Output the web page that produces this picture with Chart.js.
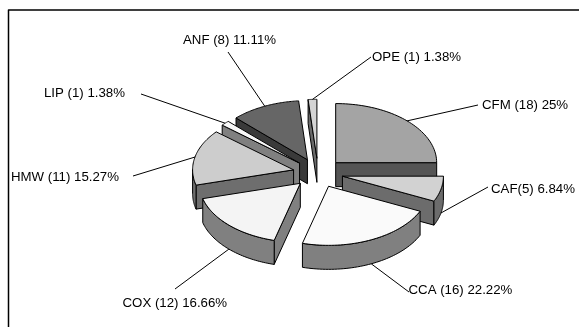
<!DOCTYPE html>
<html>
<head>
<meta charset="utf-8">
<style>
  html, body { margin: 0; padding: 0; background: #fff; overflow: hidden; }
  canvas { display: block; }
</style>
<script src="https://cdn.jsdelivr.net/npm/chart.js@4/dist/chart.umd.min.js"></script>
</head>
<body>
<canvas id="pie" width="579" height="327"></canvas>
<script>
// Sample counts per category, clockwise from twelve o'clock.
const categories = ['CFM', 'CAF', 'CCA', 'COX', 'HMW', 'LIP', 'ANF', 'OPE'];
const counts = [18, 5, 16, 12, 11, 1, 8, 1];
const sliceLabels = [
  'CFM (18) 25%',
  'CAF(5) 6.84%',
  'CCA (16) 22.22%',
  'COX (12) 16.66%',
  'HMW (11) 15.27%',
  'LIP (1) 1.38%',
  'ANF (8) 11.11%',
  'OPE (1) 1.38%'
];

// Greys for the top faces and the extruded sides of each slice.
const topColors = ['#a4a4a4', '#d2d2d2', '#fafafa', '#f4f4f4', '#cdcdcd', '#f8f8f8', '#666666', '#d4d4d4'];
const sideColors = ['#555555', '#6c6c6c', '#808080', '#808080', '#6e6e6e', '#808080', '#3a3a3a', '#6a6a6a'];

// Callout text anchors and leader-line ends.
const callouts = [
  { x: 482, y: 109, lx: 478, ly: 105 },
  { x: 491, y: 193, lx: 488, ly: 187 },
  { x: 408.5, y: 294, lx: 409, ly: 292 },
  { x: 122.5, y: 307, lx: 175, ly: 289 },
  { x: 11,  y: 181, lx: 133, ly: 176 },
  { x: 44,  y: 97,  lx: 141, ly: 94 },
  { x: 183, y: 44,  lx: 228, ly: 52 },
  { x: 372, y: 61,  lx: 371, ly: 57 }
];

const SQUASH = 0.585;
const DEPTH = 24;
const EXPLODE = 25;
const FONT = '13.25px "Liberation Sans", Arial, sans-serif';

// Slice centre after the explosion shift, in tilted screen space.
function sliceGeometry(arc, centreY) {
  const p = arc.getProps(['x', 'y', 'startAngle', 'endAngle', 'outerRadius']);
  const mid = (p.startAngle + p.endAngle) / 2;
  return {
    cx: p.x + Math.cos(mid) * EXPLODE,
    cy: centreY + Math.sin(mid) * EXPLODE * SQUASH,
    r: p.outerRadius,
    start: p.startAngle,
    end: p.endAngle,
    mid
  };
}

const onScreen = (g, a) => [g.cx + Math.cos(a) * g.r, g.cy + Math.sin(a) * g.r * SQUASH];

function tracePolygon(ctx, pts) {
  ctx.beginPath();
  pts.forEach((pt, i) => (i ? ctx.lineTo(pt[0], pt[1]) : ctx.moveTo(pt[0], pt[1])));
  ctx.closePath();
}

// Extruded side of a slice: the cut faces turned to the viewer and the curved rim.
function drawWalls(ctx, g, color) {
  ctx.fillStyle = color;
  ctx.strokeStyle = '#000';
  ctx.lineWidth = 1;
  ctx.lineJoin = 'round';
  const faces = [];
  if (Math.cos(g.start) < -1e-6) faces.push(g.start);
  if (Math.cos(g.end) > 1e-6) faces.push(g.end);
  faces.forEach((a) => {
    const o = onScreen(g, a);
    tracePolygon(ctx, [[g.cx, g.cy], o, [o[0], o[1] + DEPTH], [g.cx, g.cy + DEPTH]]);
    ctx.fill();
    ctx.stroke();
  });
  // Only the part of the rim facing the viewer (0..PI in canvas angles) shows.
  const steps = 48;
  const tau = Math.PI * 2;
  for (let k = -1; k <= 1; k++) {
    const a0 = Math.max(g.start, k * tau);
    const a1 = Math.min(g.end, k * tau + Math.PI);
    if (a1 <= a0) continue;
    const top = [];
    const bottom = [];
    for (let i = 0; i <= steps; i++) {
      const pt = onScreen(g, a0 + (a1 - a0) * i / steps);
      top.push(pt);
      bottom.unshift([pt[0], pt[1] + DEPTH]);
    }
    tracePolygon(ctx, top.concat(bottom));
    ctx.fill();
    ctx.stroke();
  }
}

function strokeTop(ctx, g) {
  ctx.strokeStyle = '#000';
  ctx.lineWidth = 1;
  ctx.lineJoin = 'round';
  const pts = [[g.cx, g.cy]];
  const steps = 48;
  for (let i = 0; i <= steps; i++) pts.push(onScreen(g, g.start + (g.end - g.start) * i / steps));
  tracePolygon(ctx, pts);
  ctx.stroke();
}

// Replaces the flat pie drawing with a tilted, extruded one, back slices first.
const tiltedPie = {
  id: 'tiltedPie',
  beforeDatasetsDraw(chart) {
    const ctx = chart.ctx;
    const arcs = chart.getDatasetMeta(0).data;
    const centreY = arcs[0].y;
    const order = arcs.map((arc, i) => ({ arc, i, g: sliceGeometry(arc, centreY) }))
      .sort((a, b) => Math.sin(a.g.mid) - Math.sin(b.g.mid));
    order.forEach(({ arc, i, g }) => {
      drawWalls(ctx, g, sideColors[i]);
      ctx.save();
      ctx.translate(Math.cos(g.mid) * EXPLODE, centreY + Math.sin(g.mid) * EXPLODE * SQUASH);
      ctx.scale(1, SQUASH);
      ctx.translate(0, -centreY);
      arc.draw(ctx);
      ctx.restore();
      strokeTop(ctx, g);
    });
    return false;
  },
  afterDraw(chart) {
    const ctx = chart.ctx;
    const arcs = chart.getDatasetMeta(0).data;
    const centreY = arcs[0].y;
    ctx.save();
    // Frame: only the top and left rules fall inside the canvas.
    ctx.strokeStyle = '#000';
    ctx.lineWidth = 1.5;
    ctx.beginPath();
    ctx.moveTo(8.5, chart.height);
    ctx.lineTo(8.5, 10);
    ctx.lineTo(chart.width, 10);
    ctx.stroke();
    ctx.lineWidth = 1;
    ctx.fillStyle = '#000';
    ctx.font = FONT;
    ctx.textBaseline = 'alphabetic';
    arcs.forEach((arc, i) => {
      const g = sliceGeometry(arc, centreY);
      const start = onScreen(g, g.mid);
      const lift = Math.sin(g.mid) > 0 ? DEPTH : 0;
      const c = callouts[i];
      ctx.beginPath();
      ctx.moveTo(start[0], start[1] + lift);
      ctx.lineTo(c.lx, c.ly);
      ctx.stroke();
      ctx.fillText(sliceLabels[i], c.x, c.y);
    });
    ctx.restore();
  }
};

new Chart(document.getElementById('pie'), {
  type: 'pie',
  data: {
    labels: categories,
    datasets: [{
      data: counts,
      backgroundColor: topColors,
      borderWidth: 0
    }]
  },
  options: {
    responsive: false,
    animation: false,
    radius: 101,
    layout: { padding: { left: 57, top: 19 } },
    plugins: { legend: { display: false }, tooltip: { enabled: false } }
  },
  plugins: [tiltedPie]
});
</script>
</body>
</html>
